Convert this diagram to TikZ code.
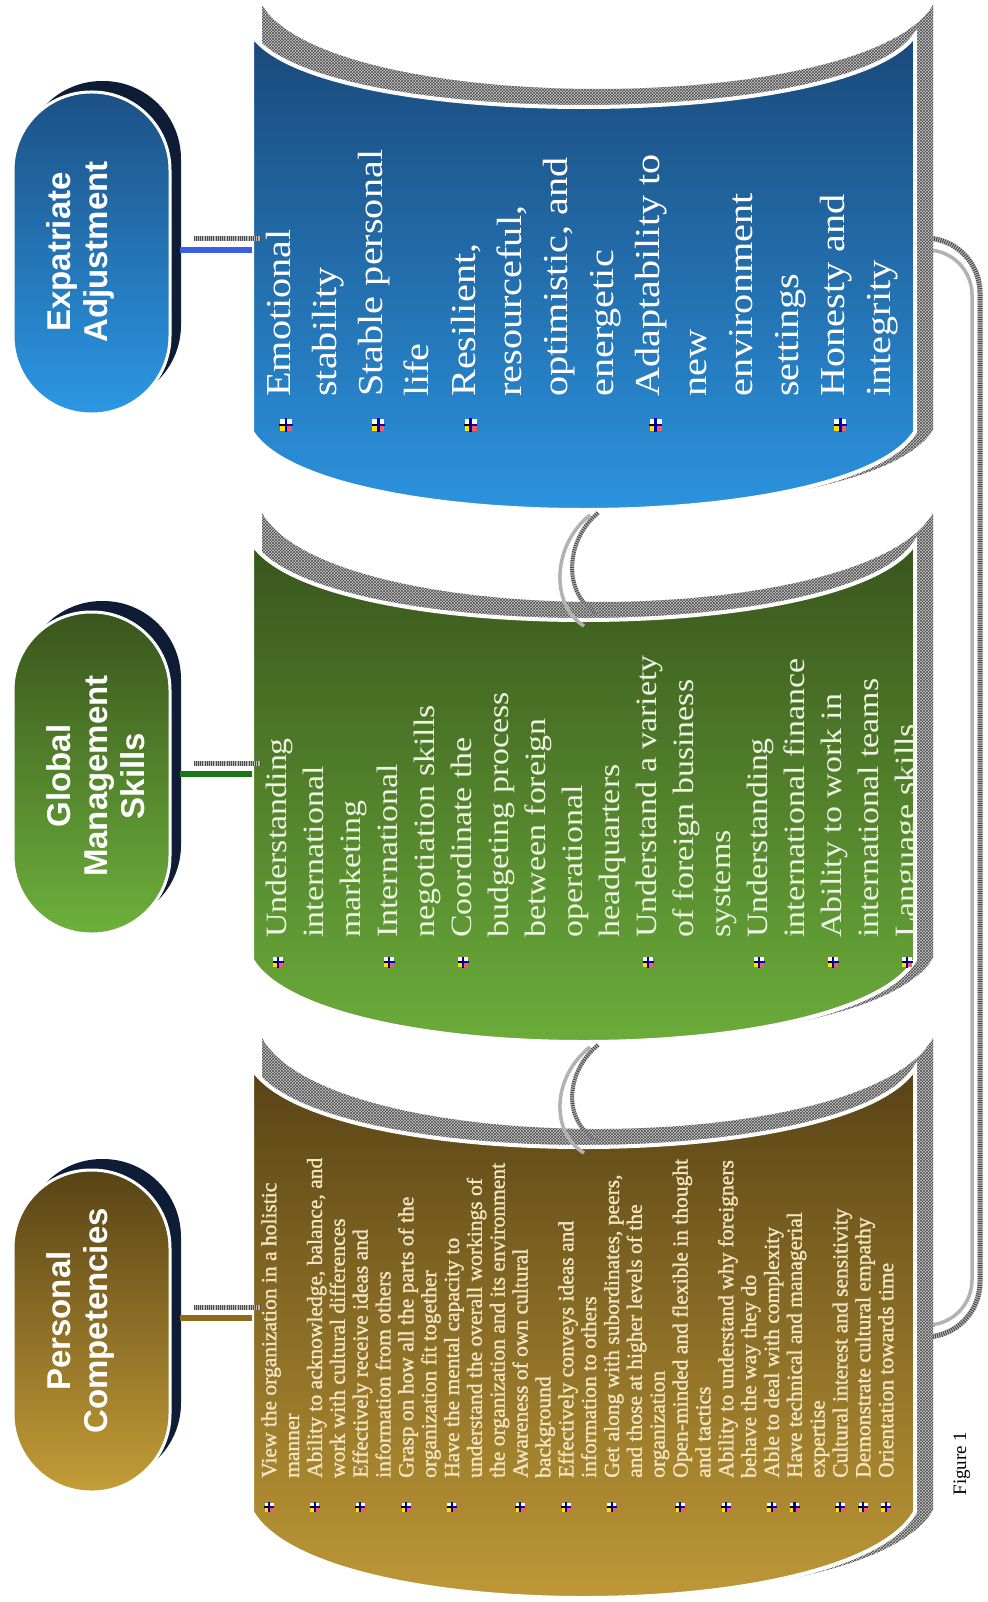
\documentclass[tikz,border=0pt]{standalone}
\usepackage{fontspec}
\setmainfont{Liberation Serif}
\newfontfamily\wideserif{Liberation Serif}[FakeStretch=1.15]
\newfontfamily\heavyserif{Liberation Serif}[FakeBold=1.3]
\newfontfamily\headsans{Liberation Sans}
\usepackage{xcolor}
\usepackage{tikz}
\usetikzlibrary{
    calc,
    patterns
}
\definecolor{blueTop}{HTML}{1A497A}
\definecolor{blueBot}{HTML}{2C97E4}
\definecolor{greenTop}{HTML}{39551C}
\definecolor{greenBot}{HTML}{6DB13C}
\definecolor{brownTop}{HTML}{584315}
\definecolor{brownBot}{HTML}{C49D38}
\definecolor{navyShade}{HTML}{0E1C36}
\definecolor{linkBlue}{HTML}{3B5FE2}
\definecolor{linkGreen}{HTML}{187818}
\definecolor{linkBrown}{HTML}{8C6B1F}
\definecolor{greenInk}{HTML}{EEF4E2}
\definecolor{brownInk}{HTML}{F2E6C2}

% left right topY topSag bottomY bottomSag
\newcommand{\panelpath}[6]{%
    ({#1},{#3}) .. controls ({#1+0.1*(#2-#1)},{#3+4*#4/3}) and ({#2-0.1*(#2-#1)},{#3+4*#4/3}) .. ({#2},{#3})
    -- ({#2},{#5}) .. controls ({#2-0.1*(#2-#1)},{#5+4*#6/3}) and ({#1+0.1*(#2-#1)},{#5+4*#6/3}) .. ({#1},{#5}) -- cycle}

\tikzset{
    ovalbox/.style={
        rectangle,
        rounded corners=78pt,
        minimum width=157pt,
        minimum height=322pt,
        inner sep=0pt
    },
    ovalshadow/.style={
        ovalbox,
        fill=navyShade
    },
    ovaltext/.style={
        rotate=90,
        align=center,
        text=white,
        font=\headsans\bfseries\fontsize{33}{37}\selectfont
    },
    hatchfill/.style={
        preaction={fill=gray!40},
        pattern=crosshatch,
        pattern color=black!70
    },
    hatchline/.style={
        line width=#1,
        draw=gray!55,
        postaction={draw=black!70, dash pattern=on 1pt off 1.2pt}
    },
    ringline/.style={
        line width=3.5pt,
        draw=gray!60
    },
    linkline/.style={
        line width=6pt,
        draw=#1
    },
    paneledge/.style={
        draw=white,
        line width=4pt
    },
    itemtext/.style={
        rotate=90,
        anchor=north west,
        inner sep=0pt,
        align=left
    },
    bulletmark/.pic={
        \fill[white] (-5,-5) rectangle (5,5);
        \fill[yellow!85!orange] (-5,0) rectangle (0,5);
        \fill[red!65] (0,0) rectangle (5,5);
        \fill[blue!75!black] (-1.2,-5.5) rectangle (1.2,5.5);
        \fill[blue!75!black] (0,-1) rectangle (5.5,1);
        \fill[black] (-5.5,-0.8) rectangle (0,0.8);
    }
}

\begin{document}
\begin{tikzpicture}[x=1pt, y=-1pt]
\useasboundingbox (0,0) rectangle (987,1602);
\fill[white] (0,0) rectangle (987,1602);

\coordinate (expatL) at (252,250);
\coordinate (globalL) at (252,774);
\coordinate (personalL) at (252,1318);
\coordinate (expatR) at (933,244);
\coordinate (personalR) at (933,1331);
\coordinate (expatB) at (583,510);
\coordinate (globalT) at (583,620);
\coordinate (globalB) at (583,1042);
\coordinate (personalT) at (583,1147);

\draw[hatchline=5pt, rounded corners=55pt] ($(expatR)+(-10,-6)$) -| ($(personalR)+(47,6)$) -- ($(personalR)+(0,6)$);
\draw[ringline, rounded corners=45pt] ($(expatR)+(-13,6)$) -| ($(personalR)+(39,-6)$) -- ($(personalR)+(2,-6)$);

\path[hatchfill] \panelpath{262}{933}{5}{84}{430}{78};
\path[paneledge, top color=blueTop, bottom color=blueBot] \panelpath{252}{915}{35}{72}{432}{78};
\path[hatchfill] \panelpath{262}{933}{513}{89}{958}{82};
\path[paneledge, top color=greenTop, bottom color=greenBot] \panelpath{252}{915}{543}{77}{960}{82};
\path[hatchfill] \panelpath{262}{933}{1038}{91}{1510}{86};
\path[paneledge, top color=brownTop, bottom color=brownBot] \panelpath{252}{915}{1068}{79}{1512}{86};

\begin{scope}
\clip \panelpath{252}{915}{35}{72}{432}{78};
\node[itemtext, text=white, font=\wideserif\fontsize{35}{46.2}\selectfont] (expatitems) at (257.7,397)
    {\strut Emotional\\stability\\Stable personal\\life\\Resilient,\\resourceful,\\optimistic, and\\energetic\\Adaptability to\\new\\environment\\settings\\Honesty and\\integrity};
\end{scope}
\begin{scope}
\clip \panelpath{252}{915}{543}{77}{960}{82};
\node[itemtext, text=greenInk, font=\wideserif\fontsize{29.5}{37}\selectfont] (globalitems) at (260.1,938)
    {\strut Understanding\\international\\marketing\\International\\negotiation skills\\Coordinate the\\budgeting process\\between foreign\\operational\\headquarters\\Understand a variety\\of foreign business\\systems\\Understanding\\international finance\\Ability to work in\\international teams\\Language skills};
\end{scope}
\begin{scope}
\clip \panelpath{252}{915}{1068}{79}{1512}{86};
\node[itemtext, text=brownInk, font=\heavyserif\fontsize{21.5}{22.85}\selectfont] (personalitems) at (260,1478)
    {\strut View the organization in a holistic\\manner\\Ability to acknowledge, balance, and\\work with cultural differences\\Effectively receive ideas and\\information from others\\Grasp on how all the parts of the\\organization fit together\\Have the mental capacity to\\understand the overall workings of\\the organization and its environment\\Awareness of own cultural\\background\\Effectively conveys ideas and\\information to others\\Get along with subordinates, peers,\\and those at higher levels of the\\organization\\Open-minded and flexible in thought\\and tactics\\Ability to understand why foreigners\\behave the way they do\\Able to deal with complexity\\Have technical and managerial\\expertise\\Cultural interest and sensitivity\\Demonstrate cultural empathy\\Orientation towards time};
\end{scope}

\foreach \n in {1,3,5,9,13}
    \pic[scale=1.2] at ({286+(\n-1)*46.2},425) {bulletmark};
\foreach \n in {1,4,6,11,14,16,18}
    \pic at ({278+(\n-1)*37},962) {bulletmark};
\foreach \n in {1,3,5,7,9,12,14,16,19,21,23,24,26,27,28}
    \pic[scale=0.9] at ({269+(\n-1)*22.85},1507) {bulletmark};

\draw[hatchline=4pt] ($(expatB)+(15,3)$) .. controls +(-33,27) and +(-36,-19) .. ($(globalT)+(15,-6)$);
\draw[ringline] ($(expatB)+(7,5)$) .. controls +(-38,30) and +(-34,-21) .. ($(globalT)+(1,6)$);
\draw[hatchline=4pt] ($(globalB)+(15,3)$) .. controls +(-33,27) and +(-36,-19) .. ($(personalT)+(15,-6)$);
\draw[ringline] ($(globalB)+(7,5)$) .. controls +(-38,30) and +(-34,-21) .. ($(personalT)+(1,6)$);

\coordinate (expatC) at (91.5,253);
\coordinate (globalC) at (91.5,773);
\coordinate (personalC) at (91.5,1331);
\node[ovalshadow] (expatshadow) at ($(expatC)+(11,-11)$) {};
\node[ovalshadow] (globalshadow) at ($(globalC)+(11,-11)$) {};
\node[ovalshadow] (personalshadow) at ($(personalC)+(11,-11)$) {};
\node[ovalbox, draw=white, line width=3pt, top color=blueTop!90!blueBot, bottom color=blueBot] (expat) at (expatC) {};
\node[ovalbox, draw=white, line width=3pt, top color=greenTop, bottom color=greenBot] (globalms) at (globalC) {};
\node[ovalbox, draw=white, line width=3pt, top color=brownTop, bottom color=brownBot] (personal) at (personalC) {};
\node[ovaltext] (expatlabel) at (80,252) {Expatriate\\Adjustment};
\node[ovaltext] (globallabel) at (96,776) {Global\\Management\\Skills};
\node[ovaltext] (personallabel) at (80,1321) {Personal\\Competencies};

\draw[hatchline=5pt] ($(expat.east |- expatL)+(22,-11)$) -- ($(expatL)+(8,-11)$);
\draw[linkline=linkBlue] ($(expat.east |- expatL)+(8,0)$) -- (expatL);
\draw[hatchline=5pt] ($(globalms.east |- globalL)+(22,-11)$) -- ($(globalL)+(8,-11)$);
\draw[linkline=linkGreen] ($(globalms.east |- globalL)+(8,0)$) -- (globalL);
\draw[hatchline=5pt] ($(personal.east |- personalL)+(22,-11)$) -- ($(personalL)+(8,-11)$);
\draw[linkline=linkBrown] ($(personal.east |- personalL)+(8,0)$) -- (personalL);

\node[rotate=90, anchor=base west, font=\fontsize{19}{22}\selectfont] (figlabel) at (966,1499) {Figure 1};
\end{tikzpicture}
\end{document}
